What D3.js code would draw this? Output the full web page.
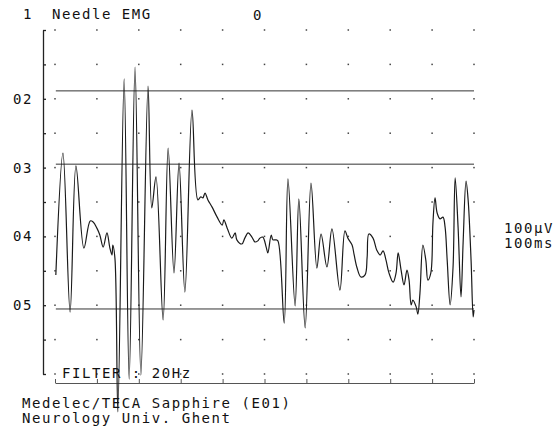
<!DOCTYPE html>
<html>
<head>
<meta charset="utf-8">
<script src="https://cdn.jsdelivr.net/npm/d3@7"></script>
<style>
  body { margin: 0; background: #fff; }
  text { font-family: "DejaVu Sans Mono", "Liberation Mono", monospace; font-size: 14px; letter-spacing: 1.55px; fill: #111; }
</style>
</head>
<body>
<script>
// time base (ms) and amplitude (uV)
var traceTime = [2, 19, 36, 50, 69, 84, 91, 100, 107, 115, 124, 131, 136, 138, 143, 150, 165, 177, 191, 205,
  222, 231, 241, 258, 270, 284, 296, 310, 327, 341, 348, 353, 358, 365, 375, 387, 399, 403, 411, 422,
  430, 434, 446, 453, 461, 470, 477, 484, 489, 496, 504, 508, 516, 520, 527, 532, 547, 556, 573, 582,
  597, 611, 625, 635, 649, 661, 680, 692, 699, 709, 714, 721, 730, 740, 745, 749, 759, 768, 776, 783,
  790, 797, 807, 814, 819, 826, 833, 840, 845, 850, 854, 862, 866, 871, 878, 885, 890, 897, 902, 907,
  912, 919, 926, 931, 936, 943, 950, 955, 962, 969, 974, 981, 986, 993, 998, 1000];
var traceAmp = [-212, 142, -320, 105, -134, -55, -58, -76, -96, -131, -90, -134, -154, -125, -163, -610, 358, -515, 392, -503,
  337, -17, 73, -343, 157, -206, 113, -262, 267, 6, 15, 12, 26, 6, -15, -44, -67, -52, -76, -105,
  -90, -110, -122, -105, -90, -102, -116, -113, -105, -102, -131, -148, -96, -110, -110, -113, -352, 67, -302, 9,
  -366, 55, -192, -93, -189, -78, -256, -84, -105, -125, -154, -192, -218, -212, -160, -93, -105, -140, -154, -142,
  -169, -206, -233, -206, -148, -198, -241, -198, -227, -299, -285, -305, -326, -265, -125, -169, -227, -206, -61, 12,
  -32, -49, -44, -73, -169, -299, -189, 70, -73, -276, -119, 61, 6, -169, -334, -314];

var cursorLevels = [323, 110, -311];
var rowLabelValues = [300, 100, -100, -300];
var rowLabels = ["02", "03", "04", "05"];
var gridTimes = d3.range(0, 1001, 100);
var gridAmps = d3.range(-500, 501, 100);

var w = 560, h = 429;

var x = d3.scaleLinear().domain([0, 1000]).range([55, 474]);
var y = d3.scaleLinear().domain([-500, 500]).range([374, 30]);

var svg = d3.select('body')
  .append('svg')
  .attr('width', w)
  .attr('height', h);

// dot grid
gridTimes.forEach(function(t) {
  svg.append('g').selectAll('rect')
    .data(gridAmps)
    .enter().append('rect')
    .attr('x', x(t) - 0.75)
    .attr('y', function(v) { return y(v) - 0.75; })
    .attr('width', 1.5)
    .attr('height', 1.5)
    .attr('fill', '#444');
});

// left vertical axis with small ticks
var yAxis = d3.axisRight(y).tickValues(gridAmps).tickSize(3).tickSizeOuter(0).tickFormat('');
var gy = svg.append('g').attr('transform', 'translate(43,0)').call(yAxis);
gy.selectAll('path, line').attr('stroke', '#222').attr('stroke-width', 1.3);

// row labels
svg.append('g').selectAll('text')
  .data(rowLabelValues)
  .enter().append('text')
  .attr('x', 13)
  .attr('y', function(v) { return y(v) + 5; })
  .text(function(v, i) { return rowLabels[i]; });

// bottom time line with ticks
var xAxis = d3.axisTop(x).tickValues(gridTimes).tickSize(4).tickSizeOuter(0).tickFormat('');
var gx = svg.append('g').attr('transform', 'translate(0,383)').call(xAxis);
gx.selectAll('path, line').attr('stroke', '#555').attr('stroke-width', 1);

// cursor lines
svg.append('g').selectAll('line')
  .data(cursorLevels)
  .enter().append('line')
  .attr('x1', x(2))
  .attr('x2', x(1000))
  .attr('y1', function(v) { return y(v); })
  .attr('y2', function(v) { return y(v); })
  .attr('stroke', '#333')
  .attr('stroke-width', 1);

// EMG trace
var line = d3.line()
  .x(function(d, i) { return x(traceTime[i]); })
  .y(function(d) { return y(d); })
  .curve(d3.curveCatmullRom.alpha(0.5));

svg.append('path')
  .attr('d', line(traceAmp))
  .attr('fill', 'none')
  .attr('stroke', '#1a1a1a')
  .attr('stroke-width', 1.2);

// header and footer texts
svg.append('text').attr('x', 23).attr('y', 19).text('1');
svg.append('text').attr('x', 52).attr('y', 19).text('Needle EMG');
svg.append('text').attr('x', 253).attr('y', 20).text('0');
svg.append('text').attr('x', 62).attr('y', 378).text('FILTER : 20Hz');
svg.append('text').attr('x', 504).attr('y', 233).text('100\u03bcV');
svg.append('text').attr('x', 504).attr('y', 248).text('100ms');
svg.append('text').attr('x', 22).attr('y', 408).text('Medelec/TECA Sapphire (E01)');
svg.append('text').attr('x', 22).attr('y', 423).text('Neurology Univ. Ghent');
</script>
</body>
</html>
